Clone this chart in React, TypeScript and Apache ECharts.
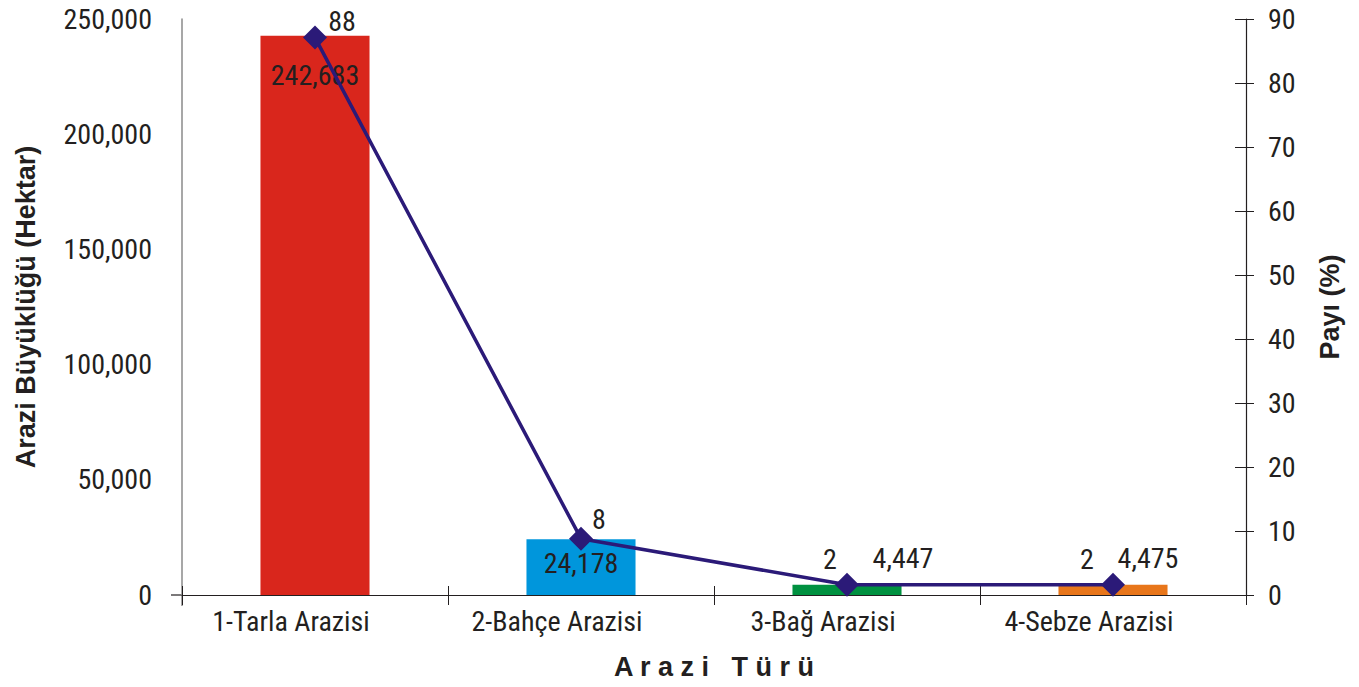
import React, { useEffect, useRef } from "react";
import * as echarts from "echarts";

const categories = ["1-Tarla Arazisi", "2-Bahçe Arazisi", "3-Bağ Arazisi", "4-Sebze Arazisi"];
const areaValues = [242683, 24178, 4447, 4475];
const shareValues = [87.1, 8.8, 1.6, 1.6];
const shareLabels = ["88", "8", "2", "2"];
const barColors = ["#D9261C", "#0096DC", "#009140", "#E8761A"];
const leftTicks = { min: 0, max: 250000, interval: 50000 };
const rightTicks = { min: 0, max: 90, interval: 10 };

const FONT = "'Liberation Sans Narrow', 'Arial Narrow', 'Roboto Condensed', Roboto, sans-serif";
const BOLD_FONT = "'Liberation Sans', Arial, Helvetica, sans-serif";
const TXT = "#231F20";
const FS = 28;

export default function App() {
  const ref = useRef<HTMLDivElement>(null);
  useEffect(() => {
    if (!ref.current) return;
    const chart = echarts.init(ref.current, undefined, { renderer: "svg" });
    const barLabelCfg = [
      { position: "insideTop", distance: 26 },
      { position: "insideTop", distance: 10 },
      { position: "top", distance: 12, offset: [56, 0] },
      { position: "top", distance: 12, offset: [35, 0] },
    ];
    const lineLabelOffsets = [
      [27, 15],
      [18, 12],
      [-17, 6],
      [-26, 6],
    ];
    const titleStyle = { fontSize: 27, fontWeight: "bold", color: TXT, fontFamily: BOLD_FONT };
    chart.setOption({
      animation: false,
      textStyle: { fontFamily: FONT, color: TXT },
      grid: { left: 182, right: 113, top: 19, bottom: 92, containLabel: false, outerBoundsMode: "none" },
      graphic: [
        { type: "line", shape: { x1: 171, y1: 595, x2: 182, y2: 595 }, style: { stroke: "#231F20", lineWidth: 1.2 } },
        { type: "line", shape: { x1: 182, y1: 595, x2: 182, y2: 606 }, style: { stroke: "#8A8A8A", lineWidth: 1.5 } },
      ],
      xAxis: [
        {
          type: "category",
          data: categories,
          boundaryGap: true,
          axisLine: { show: true, lineStyle: { color: "#231F20", width: 1.2 } },
          axisTick: { show: true, length: 10, lineStyle: { color: "#231F20" } },
          axisLabel: { color: TXT, fontSize: FS, fontFamily: FONT, margin: 12, padding: [0, 48, 0, 0] },
          name: "A r a z i   T ü r ü",
          nameLocation: "middle",
          nameGap: 58,
          nameTextStyle: titleStyle,
        },
        {
          type: "category",
          data: categories,
          position: "bottom",
          axisLine: { show: false },
          axisTick: { show: true, inside: true, length: 9, lineStyle: { color: "#231F20" } },
          axisLabel: { show: false },
        },
      ],
      yAxis: [
        {
          type: "value",
          ...leftTicks,
          position: "left",
          axisLine: { show: true, lineStyle: { color: "#8A8A8A", width: 1.5 } },
          axisTick: { show: false },
          splitLine: { show: false },
          axisLabel: {
            color: TXT,
            fontSize: FS,
            fontFamily: FONT,
            margin: 30,
            formatter: (v: number) => v.toLocaleString("en-US"),
          },
          name: "Arazi Büyüklüğü (Hektar)",
          nameLocation: "middle",
          nameRotate: 90,
          nameGap: 143,
          nameTextStyle: titleStyle,
        },
        {
          type: "value",
          ...rightTicks,
          position: "right",
          axisLine: { show: true, lineStyle: { color: "#231F20", width: 1.2 } },
          axisTick: { show: true, length: 8, lineStyle: { color: "#231F20" } },
          splitLine: { show: false },
          axisLabel: { color: TXT, fontSize: FS, fontFamily: FONT, margin: 22 },
          name: "Payı (%)",
          nameLocation: "middle",
          nameRotate: 90,
          nameGap: 70,
          nameTextStyle: titleStyle,
        },
        {
          type: "value",
          ...rightTicks,
          position: "right",
          axisLine: { show: false },
          axisTick: { show: true, inside: true, length: 11, lineStyle: { color: "#231F20" } },
          splitLine: { show: false },
          axisLabel: { show: false },
        },
      ],
      series: [
        {
          type: "bar",
          xAxisIndex: 0,
          yAxisIndex: 0,
          barWidth: "41%",
          data: areaValues.map((v, i) => ({
            value: v,
            itemStyle: { color: barColors[i] },
            label: {
              show: true,
              ...barLabelCfg[i],
              color: TXT,
              fontSize: FS,
              fontFamily: FONT,
              formatter: (p: any) => Number(p.value).toLocaleString("en-US"),
            },
          })),
        },
        {
          type: "line",
          xAxisIndex: 0,
          yAxisIndex: 1,
          data: shareValues.map((v, i) => ({
            value: v,
            label: {
              show: true,
              position: "top",
              offset: lineLabelOffsets[i],
              color: TXT,
              fontSize: FS,
              fontFamily: FONT,
              formatter: () => shareLabels[i],
            },
          })),
          symbol: "diamond",
          symbolSize: [24, 24],
          lineStyle: { color: "#2B1A78", width: 3.5 },
          itemStyle: { color: "#2B1A78" },
          z: 5,
        },
      ],
    });
    return () => chart.dispose();
  }, []);
  return (
    <div
      ref={ref}
      style={{ position: "fixed", left: 0, top: 0, width: 1359, height: 687, background: "#fff" }}
    />
  );
}
